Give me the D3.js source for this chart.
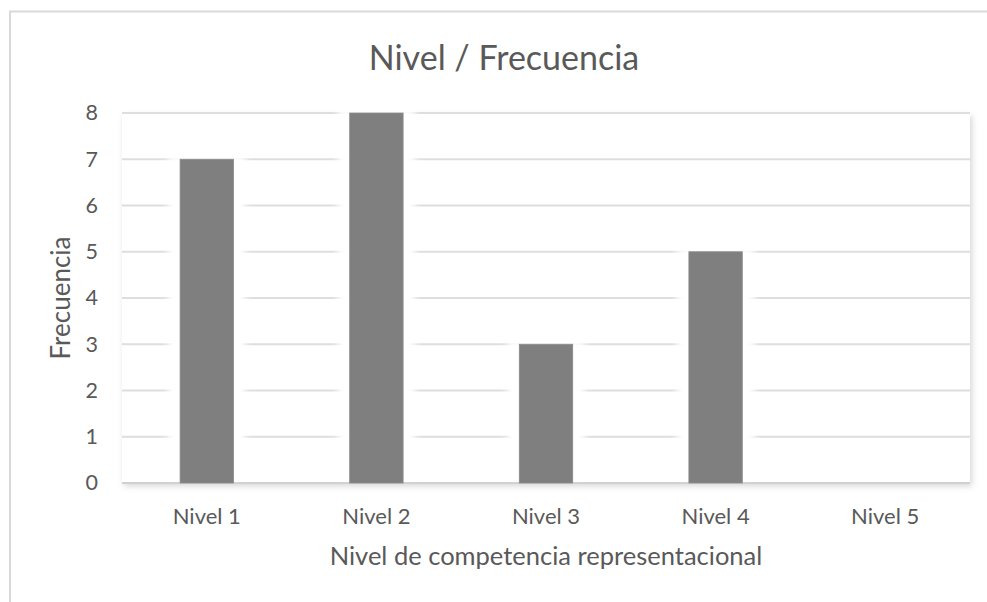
<!DOCTYPE html>
<html><head><meta charset="utf-8">
<script src="https://cdn.jsdelivr.net/npm/d3@7"></script>
<style>html,body{margin:0;padding:0;background:#fff;}svg{display:block;}</style>
</head><body>
<script>
const categories = ["Nivel 1","Nivel 2","Nivel 3","Nivel 4","Nivel 5"];
const values = [7, 8, 3, 5, 0];
const yTicks = [0,1,2,3,4,5,6,7,8];
const title = "Nivel / Frecuencia";
const xTitle = "Nivel de competencia representacional";
const yTitle = "Frecuencia";

const W = 987, H = 602;
const m = {left:122, right:17, top:113, bottom:119};
const FONT = "Lato, 'Open Sans', sans-serif";
const TXT = "#595959";

const svg = d3.select("body").append("svg").attr("width", W).attr("height", H);
const defs = svg.append("defs");
const sh = defs.append("filter").attr("id","shadow").attr("x","-5%").attr("y","-5%").attr("width","110%").attr("height","115%");
sh.append("feDropShadow").attr("dx",2).attr("dy",3).attr("stdDeviation",3).attr("flood-color","#000").attr("flood-opacity",0.16);
const gl = defs.append("filter").attr("id","glow").attr("x","-50%").attr("y","-10%").attr("width","200%").attr("height","120%");
gl.append("feGaussianBlur").attr("stdDeviation",3.5);

svg.append("rect").attr("width",W).attr("height",H).attr("fill","#fff");
// outer chart border
svg.append("path").attr("d",`M10,${H+5} L10,11.5 L${W+5},11.5`).attr("fill","none").attr("stroke","#d9d9d9").attr("stroke-width",2);

const x = d3.scaleBand().domain(categories).range([m.left, W - m.right]).paddingInner(0.685).paddingOuter(0.3425);
const y = d3.scaleLinear().domain([0,8]).range([H - m.bottom, m.top]);

// plot area with shadow
svg.append("rect").attr("x",m.left).attr("y",m.top).attr("width",W-m.right-m.left).attr("height",H-m.bottom-m.top)
  .attr("fill","#fff").attr("filter","url(#shadow)");

// gridlines
const grid = svg.append("g");
grid.selectAll("line").data(yTicks).join("line")
  .attr("x1",m.left).attr("x2",W-m.right)
  .attr("y1",d=>y(d)).attr("y2",d=>y(d))
  .attr("stroke",d=> d===0 ? "#d0d0d0" : "#dedede").attr("stroke-width",2);

// white glow behind bars (gaps in gridlines)
svg.append("g").selectAll("rect").data(values.map((v,i)=>({c:categories[i],v}))).join("rect")
  .attr("x",d=>x(d.c)-12).attr("width",x.bandwidth()+24)
  .attr("y",d=>y(d.v)-4).attr("height",d=>Math.max(0,y(0)-y(d.v)-2))
  .attr("fill","#fff").attr("filter","url(#glow)")
  .attr("display",d=>d.v>0?null:"none");

// bars
svg.append("g").selectAll("rect").data(values.map((v,i)=>({c:categories[i],v}))).join("rect")
  .attr("x",d=>x(d.c)).attr("width",x.bandwidth())
  .attr("y",d=>y(d.v)).attr("height",d=>y(0)-y(d.v))
  .attr("fill","#7f7f7f").attr("stroke","#8c8c8c").attr("stroke-width",0.8);

// y axis
const ya = svg.append("g").attr("transform",`translate(${m.left},0)`)
  .call(d3.axisLeft(y).tickValues(yTicks).tickSize(0).tickPadding(24).tickFormat(d3.format("d")));
ya.select(".domain").remove();
ya.selectAll("text").attr("font-family",FONT).attr("font-size",21.5).attr("fill",TXT);

// x axis
const xa = svg.append("g").attr("transform",`translate(0,${H-m.bottom})`)
  .call(d3.axisBottom(x).tickSize(0).tickPadding(25));
xa.select(".domain").remove();
xa.selectAll("text").attr("font-family",FONT).attr("font-size",22).attr("fill",TXT);

// titles
svg.append("text").attr("x",504).attr("y",70).attr("text-anchor","middle")
  .attr("font-family",FONT).attr("font-size",34).attr("fill",TXT).text(title);
svg.append("text").attr("x",(m.left + W - m.right)/2).attr("y",565).attr("text-anchor","middle")
  .attr("font-family",FONT).attr("font-size",25.5).attr("fill",TXT).text(xTitle);
svg.append("text").attr("transform",`translate(70,${(m.top + H - m.bottom)/2}) rotate(-90)`).attr("text-anchor","middle")
  .attr("font-family",FONT).attr("font-size",26).attr("fill",TXT).text(yTitle);
</script>
</body></html>
